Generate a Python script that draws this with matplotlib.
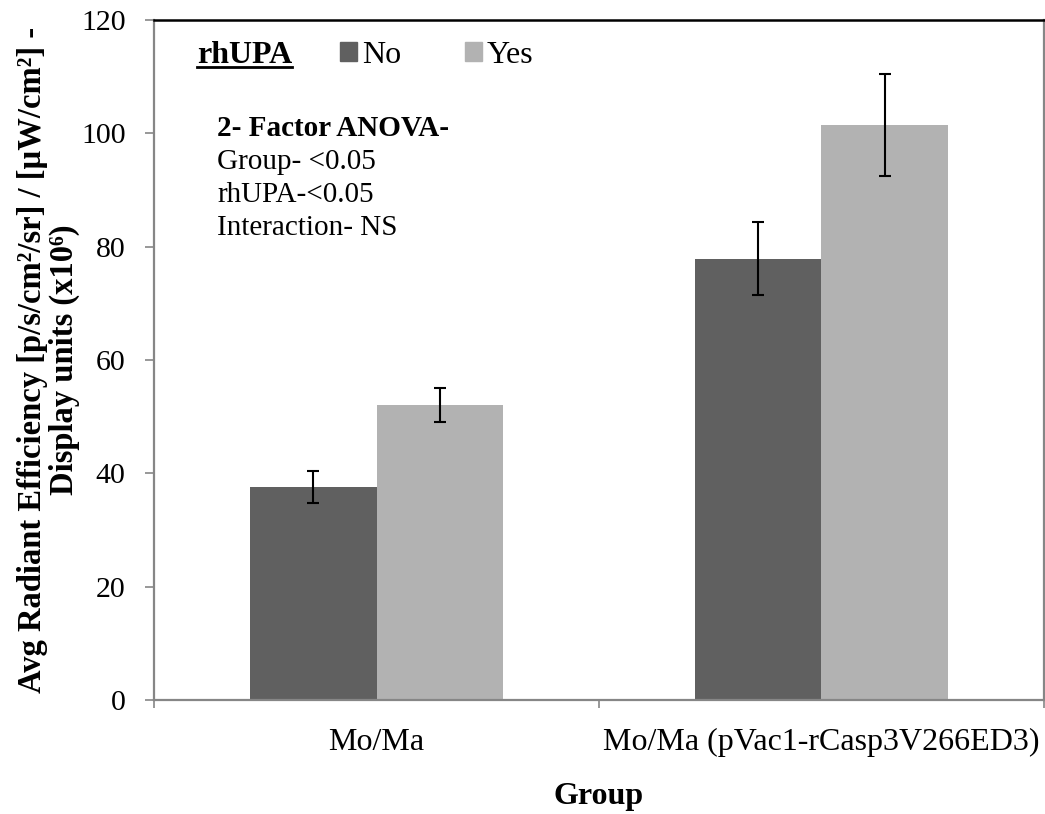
import numpy as np
import matplotlib.pyplot as plt
from matplotlib.patches import Patch

plt.rcParams['font.family'] = ['Liberation Serif', 'DejaVu Serif']

groups = ['Mo/Ma', 'Mo/Ma (pVac1-rCasp3V266ED3)']
no_means = [37.6, 77.9]
no_err = [2.8, 6.5]
yes_means = [52.1, 101.5]
yes_err = [3.0, 9.0]

c_no = '#606060'
c_yes = '#b2b2b2'
axis_grey = '#868686'

fig = plt.figure(figsize=(10.45, 8.14), dpi=100)
ax = fig.add_axes([0.1474, 0.140, 0.8516, 0.8354])

x = np.arange(len(groups))
w = 0.285
err_style = dict(ecolor='black', elinewidth=1.5, capsize=4.3, capthick=1.5)
ax.bar(x - w / 2, no_means, w, color=c_no, yerr=no_err, error_kw=err_style)
ax.bar(x + w / 2, yes_means, w, color=c_yes, yerr=yes_err, error_kw=err_style)

ax.set_xlim(-0.5, 1.5)
ax.set_ylim(0, 120)
ax.set_yticks(np.arange(0, 121, 20))
# category boundaries carry the ticks, names sit under the bar pairs
ax.set_xticks([-0.5, 0.5, 1.5])
ax.set_xticklabels([])
ax.set_xticks(x, minor=True)
ax.set_xticklabels(groups, minor=True)
ax.tick_params(axis='x', which='minor', length=0, labelsize=23, pad=20)
ax.tick_params(axis='x', which='major', length=6, width=1.2, color=axis_grey)
ax.tick_params(axis='y', length=6.5, width=1.2, color=axis_grey, labelsize=21.5, pad=14)

for side in ['left', 'bottom', 'right']:
    ax.spines[side].set_color(axis_grey)
    ax.spines[side].set_linewidth(1.6)
ax.spines['top'].set_color('black')
ax.spines['top'].set_linewidth(1.8)

ax.set_xlabel('Group', fontsize=23, fontweight='bold', labelpad=18)
ax.set_ylabel('Avg Radiant Efficiency [p/s/cm\u00b2/sr] / [\u00b5W/cm\u00b2] -\nDisplay units (x10\u2076)',
              fontsize=23.5, fontweight='bold', labelpad=1, linespacing=1.0)

# legend with underlined title drawn beside it
title = ax.text(0.048, 0.948, 'rhUPA', transform=ax.transAxes, fontsize=23,
                fontweight='bold', va='center', ha='left')
handles = [Patch(color=c_no, label='No'), Patch(color=c_yes, label='Yes')]
ax.legend(handles=handles, ncol=2, loc='center left', bbox_to_anchor=(0.209, 0.948),
          frameon=False, fontsize=23, handlelength=0.53, handleheight=0.53,
          handletextpad=0.16, columnspacing=2.0, borderpad=0, borderaxespad=0)

fig.canvas.draw()
bb = title.get_window_extent().transformed(ax.transAxes.inverted())
ax.plot([bb.x0, bb.x1], [bb.y0 + 0.004, bb.y0 + 0.004], transform=ax.transAxes,
        color='black', lw=2, clip_on=False)

anova = ['Group- <0.05', 'rhUPA-<0.05', 'Interaction- NS']
ax.text(0.071, 0.841, '2- Factor ANOVA-', transform=ax.transAxes, fontsize=21,
        fontweight='bold', va='center')
for i, line in enumerate(anova):
    ax.text(0.071, 0.791 - i * 0.0485, line, transform=ax.transAxes,
            fontsize=21, va='center')

fig.savefig('out.png', dpi=100)
